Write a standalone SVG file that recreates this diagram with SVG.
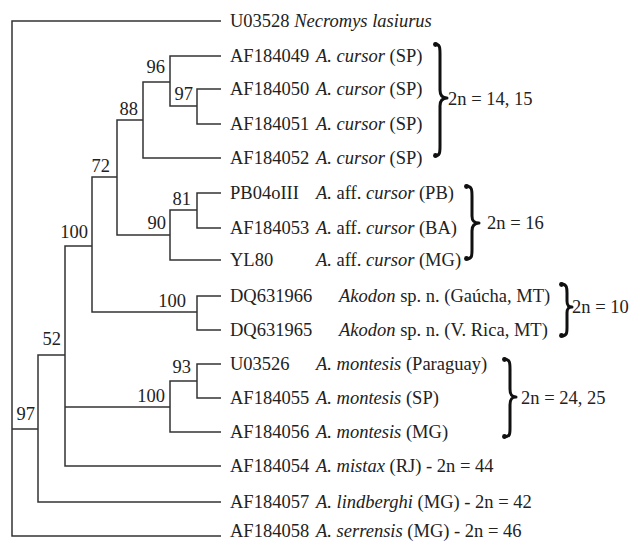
<svg xmlns="http://www.w3.org/2000/svg" width="632" height="541" viewBox="0 0 632 541">
<style>
text{font-family:'Liberation Serif','Tinos','DejaVu Serif',serif;font-size:18.5px;fill:#222}
.i{font-style:italic}
.bs{text-anchor:end}
.edge{fill:none;stroke:#333;stroke-width:1.5}
.brace{fill:none;stroke:#111;stroke-width:3;stroke-linecap:round;stroke-linejoin:round}
.dot{fill:#111}
</style>
<rect width="632" height="541" fill="#fff"/>
<g id="connectors" class="edge">
<path d="M221 21 H12 V536 H221 M12 429 H38"/>
<path d="M65 355 H38 V502 H221"/>
<path d="M92 246 H65 V466 H221 M65 407 H170"/>
<path d="M117 177 H92 V312 H197"/>
<path d="M143 120 H117 V235 H170"/>
<path d="M170 82 H143 V158 H221"/>
<path d="M221 56 H170 V106 H197"/>
<path d="M221 89 H197 V124 H221"/>
<path d="M197 210 H170 V260 H221"/>
<path d="M221 193 H197 V228 H221"/>
<path d="M221 296 H197 V330 H221"/>
<path d="M197 381 H170 V432 H221"/>
<path d="M221 364 H197 V398 H221"/>
</g>
<g id="bootstrap">
<text class="bs" x="165" y="73">96</text>
<text class="bs" x="193" y="100">97</text>
<text class="bs" x="138" y="115">88</text>
<text class="bs" x="110" y="172">72</text>
<text class="bs" x="191" y="205">81</text>
<text class="bs" x="166" y="229">90</text>
<text class="bs" x="88" y="238">100</text>
<text class="bs" x="186" y="307">100</text>
<text class="bs" x="61" y="345">52</text>
<text class="bs" x="191" y="373">93</text>
<text class="bs" x="165" y="402">100</text>
<text class="bs" x="35" y="420">97</text>
</g>
<g id="leaf-U03528"><text x="230" y="27">U03528 <tspan class="i">Necromys lasiurus</tspan></text></g>
<g id="leaf-AF184049"><text x="230" y="62">AF184049</text><text x="316" y="62"><tspan class="i">A. cursor</tspan> (SP)</text></g>
<g id="leaf-AF184050"><text x="230" y="95">AF184050</text><text x="316" y="95"><tspan class="i">A. cursor</tspan> (SP)</text></g>
<g id="leaf-AF184051"><text x="230" y="130">AF184051</text><text x="316" y="130"><tspan class="i">A. cursor</tspan> (SP)</text></g>
<g id="leaf-AF184052"><text x="230" y="164">AF184052</text><text x="316" y="164"><tspan class="i">A. cursor</tspan> (SP)</text></g>
<g id="leaf-PB04oIII"><text x="230" y="199">PB04oIII</text><text x="316" y="199"><tspan class="i">A.</tspan> aff. <tspan class="i">cursor</tspan> (PB)</text></g>
<g id="leaf-AF184053"><text x="230" y="234">AF184053</text><text x="316" y="234"><tspan class="i">A.</tspan> aff. <tspan class="i">cursor</tspan> (BA)</text></g>
<g id="leaf-YL80"><text x="230" y="266">YL80</text><text x="316" y="266"><tspan class="i">A.</tspan> aff. <tspan class="i">cursor</tspan> (MG)</text></g>
<g id="leaf-DQ631966"><text x="230" y="302">DQ631966</text><text x="339" y="302"><tspan class="i">Akodon</tspan> sp. n. (Gaúcha, MT)</text></g>
<g id="leaf-DQ631965"><text x="230" y="336">DQ631965</text><text x="339" y="336"><tspan class="i">Akodon</tspan> sp. n. (V. Rica, MT)</text></g>
<g id="leaf-U03526"><text x="230" y="370">U03526</text><text x="316" y="370"><tspan class="i">A. montesis</tspan> (Paraguay)</text></g>
<g id="leaf-AF184055"><text x="230" y="404">AF184055</text><text x="316" y="404"><tspan class="i">A. montesis</tspan> (SP)</text></g>
<g id="leaf-AF184056"><text x="230" y="438">AF184056</text><text x="316" y="438"><tspan class="i">A. montesis</tspan> (MG)</text></g>
<g id="leaf-AF184054"><text x="230" y="472">AF184054</text><text x="316" y="472"><tspan class="i">A. mistax</tspan> (RJ) - 2n = 44</text></g>
<g id="leaf-AF184057"><text x="230" y="508">AF184057</text><text x="316" y="508"><tspan class="i">A. lindberghi</tspan> (MG) - 2n = 42</text></g>
<g id="leaf-AF184058"><text x="230" y="537">AF184058</text><text x="316" y="537"><tspan class="i">A. serrensis</tspan> (MG) - 2n = 46</text></g>
<g id="group-cursor">
<path class="brace" d="M435 44 C440 44 440 48 440 54 V90 C440 95 442 98 447 98 C442 98 440 101 440 106 V146 C440 152 440 156 435 156"/>
<circle class="dot" cx="435.5" cy="44.5" r="2.4"/><circle class="dot" cx="435.5" cy="155.5" r="2.4"/>
<text x="448" y="105">2n = 14, 15</text>
</g>
<g id="group-affcursor">
<path class="brace" d="M466 186 C472 186 472 190 472 196 V216 C472 221 474 223 479 223 C474 223 472 226 472 231 V250 C472 256 472 259 466 259"/>
<circle class="dot" cx="466.5" cy="186.5" r="2.4"/><circle class="dot" cx="466.5" cy="258.5" r="2.4"/>
<text x="487" y="229">2n = 16</text>
</g>
<g id="group-akodon">
<path class="brace" d="M561 284 C567 284 567 288 567 293 V301 C567 305 568 307 572 307 C568 307 567 309 567 313 V327 C567 333 567 336 561 336"/>
<circle class="dot" cx="561.5" cy="284.5" r="2.4"/><circle class="dot" cx="561.5" cy="335.5" r="2.4"/>
<text x="572" y="313">2n = 10</text>
</g>
<g id="group-montesis">
<path class="brace" d="M504 359 C510 359 510 363 510 369 V389 C510 394 511 397 516 397 C511 397 510 400 510 405 V428 C510 434 510 437 504 437"/>
<circle class="dot" cx="504.5" cy="359.5" r="2.4"/><circle class="dot" cx="504.5" cy="436.5" r="2.4"/>
<text x="521" y="404">2n = 24, 25</text>
</g>
</svg>
